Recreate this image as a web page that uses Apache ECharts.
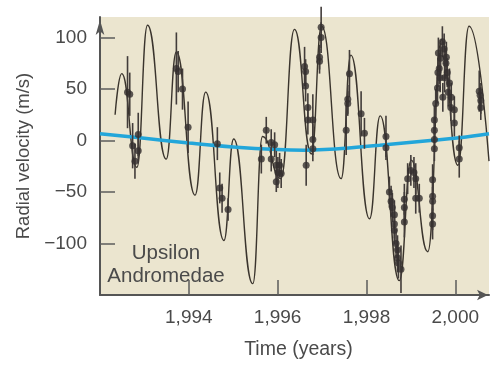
<!DOCTYPE html>
<html>
<head>
<meta charset="utf-8">
<script src="https://cdn.jsdelivr.net/npm/echarts@6/dist/echarts.min.js"></script>
<style>
html,body{margin:0;padding:0;background:#fff;}
#chart{width:490px;height:365px;}
</style>
</head>
<body>
<div id="chart"></div>
<script>
// Upsilon Andromedae radial velocity: observations, orbital fit and long-term trend

// Observations: epoch (years), velocity (m/s), 1-sigma error (m/s)
const obsYears = [
  1992.62, 1992.67, 1992.735, 1992.861, 1992.861, 1992.787,
  1993.72, 1993.76, 1993.858, 1993.984,
  1994.643, 1994.697, 1994.749, 1994.884,
  1995.633, 1995.744, 1995.856, 1995.933, 1995.856, 1995.97, 1996.006, 1995.97, 1996.045, 1996.08,
  1996.607, 1996.63, 1996.63, 1996.681, 1996.681, 1996.793, 1996.793, 1996.793, 1996.643,
  1996.98, 1996.98, 1996.944, 1996.944,
  1997.618, 1997.58, 1997.58, 1997.544, 1997.88, 1997.955,
  1998.44, 1998.44,
  1998.517, 1998.555, 1998.584, 1998.63, 1998.63, 1998.63, 1998.667, 1998.70, 1998.70, 1998.778, 1998.72,
  1998.854, 1998.854, 1998.854, 1998.928, 1999.0, 1999.07, 1999.11, 1999.11, 1999.19,
  1999.49, 1999.49, 1999.49, 1999.49, 1999.49, 1999.53, 1999.53, 1999.53, 1999.53, 1999.56,
  1999.6, 1999.64, 1999.67, 1999.71, 1999.75, 1999.79, 1999.82, 1999.87, 1999.91, 1999.98, 1999.98,
  2000.09, 2000.09, 1999.62, 1999.66, 1999.72, 1999.76, 1999.8, 1999.84, 1999.9, 1999.61,
  2000.54, 2000.575, 2000.575, 2000.56
];
const obsVel = [
  47, 45, -5, 6, -10, -20,
  70, 67, 50, 13,
  -3, -46, -56, -67,
  -18, 10, -2, -4, -18, -24, -31, -40, -24, -32,
  72, 67, 53, 32, 20, 20, 1, -8, -24,
  110, 100, 81, 77,
  65, 40, 36, 10, 26, 7,
  4, -7,
  -50, -59, -65, -72, -81, -87, -100, -106, -114, -125, -119,
  -57, -65, -79, -37, -29, -31, -37, -56, -56,
  -38, -54, -59, -73, -81, -8, 1, 10, 20, 36,
  51, 70, 80, 96, 89, 75, 66, 56, 42, 30, 17,
  -7, -18, 85, 61, 42, 61, 81, 47, 32, 66,
  48, 39, 32, 44
];
const obsErr = [
  35, 21, 22, 21, 12, 17,
  35, 20, 20, 25,
  16, 15, 14, 11,
  14, 13, 13, 12, 12, 14, 15, 10, 12, 14,
  19, 12, 15, 14, 14, 25, 15, 12, 20,
  20, 15, 12, 12,
  23, 14, 12, 24, 22, 15,
  20, 12,
  15, 15, 14, 14, 14, 14, 14, 14, 14, 23, 15,
  15, 15, 15, 15, 15, 15, 15, 15, 14,
  15, 14, 14, 14, 15, 12, 12, 12, 14, 14,
  15, 15, 15, 15, 15, 15, 14, 14, 14, 13, 13,
  12, 18, 15, 14, 14, 14, 15, 14, 13, 14,
  20, 13, 12, 12
];

// Orbital fit: turning points of the combined two-planet curve
const fitYears = [
  1992.34, 1992.49, 1992.83, 1993.07, 1993.49, 1993.72, 1994.14, 1994.38, 1994.79,
  1995.01, 1995.44, 1995.66, 1996.07, 1996.38, 1996.76, 1996.99, 1997.43, 1997.65,
  1998.07, 1998.31, 1998.74, 1999.01, 1999.38, 1999.69, 2000.06, 2000.31, 2000.76
];
const fitVel = [
  25, 65, -26, 112, -18, 86, -53, 47, -97,
  1.5, -139, 4, -37, 108, -13, 111, -37, 83,
  -76, 24, -136, -19, -108, 98, -24, 111, -20
];

// Long-term trend
const trendYears = [1992.0, 1993.0, 1994.0, 1995.0, 1996.0, 1996.6, 1997.3, 1998.3, 1999.5, 2000.1, 2000.76];
const trendVel = [6.6, 2.2, -2.3, -6.2, -8.8, -9.4, -8.3, -4.5, 0.3, 2.8, 6.6];

// Axis ticks
const xTicks = [1994, 1996, 1998, 2000];
const yTicks = [-100, -50, 0, 50, 100];

const FONT = '"Liberation Sans", Arial, Helvetica, sans-serif';
const TEXT = '#4a4a4a';
const AXIS = '#555555';

const chart = echarts.init(document.getElementById('chart'), null, {renderer: 'canvas'});

const zip = (a, b) => a.map((v, i) => [v, b[i]]);

chart.setOption({
  animation: false,
  backgroundColor: '#ffffff',
  grid: {
    left: 100, right: 1, top: 17, bottom: 62,
    show: true, backgroundColor: '#ebe5cf', borderWidth: 0
  },
  xAxis: {
    type: 'value',
    min: 1992, max: 2000.76,
    splitLine: {show: false},
    axisLine: {
      show: true, onZero: false, symbol: ['none', 'arrow'], symbolSize: [8, 11], symbolOffset: [0, -1],
      lineStyle: {color: AXIS, width: 2}
    },
    axisTick: {show: true, inside: true, length: 15, customValues: xTicks, lineStyle: {color: '#5c5c5c', width: 1.5}},
    axisLabel: {customValues: xTicks, margin: 13, fontSize: 19, color: TEXT, fontFamily: FONT},
    name: 'Time (years)', nameLocation: 'middle', nameGap: 45,
    nameTextStyle: {fontSize: 19.5, color: TEXT, fontFamily: FONT, padding: [0, 0, 0, 8]}
  },
  yAxis: {
    type: 'value',
    min: -150, max: 120,
    splitLine: {show: false},
    axisLine: {
      show: true, onZero: false, symbol: ['none', 'arrow'], symbolSize: [6.5, 15], symbolOffset: [0, -3],
      lineStyle: {color: AXIS, width: 2}
    },
    axisTick: {show: true, inside: true, length: 15, customValues: yTicks, lineStyle: {color: '#5c5c5c', width: 1.5}},
    axisLabel: {
      customValues: yTicks, margin: 13, fontSize: 19, color: TEXT, fontFamily: FONT,
      formatter: v => (v < 0 ? '\u2212' + Math.abs(v) : String(v))
    },
    name: 'Radial velocity (m/s)', nameLocation: 'middle', nameGap: 66,
    nameTextStyle: {fontSize: 18.5, color: TEXT, fontFamily: FONT}
  },
  series: [
    {
      name: 'fit', type: 'line', data: zip(fitYears, fitVel),
      smooth: 0.5, smoothMonotone: 'x', showSymbol: false, silent: true, z: 2,
      lineStyle: {color: '#3a342d', width: 1.4}
    },
    {
      name: 'trend', type: 'line', data: zip(trendYears, trendVel),
      smooth: 0.4, showSymbol: false, silent: true, z: 3,
      lineStyle: {color: '#22a6da', width: 3.5}
    },
    {
      name: 'errors', type: 'custom', silent: true, z: 4,
      data: obsYears.map((t, i) => [t, obsVel[i] - obsErr[i], obsVel[i] + obsErr[i]]),
      encode: {x: 0, y: [1, 2]},
      renderItem: (params, api) => {
        const lo = api.coord([api.value(0), api.value(1)]);
        const hi = api.coord([api.value(0), api.value(2)]);
        return {
          type: 'line',
          shape: {x1: lo[0], y1: lo[1], x2: hi[0], y2: hi[1]},
          style: {stroke: '#423c3a', lineWidth: 1.6}
        };
      }
    },
    {
      name: 'obs', type: 'scatter', data: zip(obsYears, obsVel),
      symbol: 'circle', symbolSize: 7, silent: true, z: 5,
      itemStyle: {color: '#353030'}
    }
  ],
  graphic: [
    {
      type: 'text', z: 10,
      style: {
        text: 'Upsilon\nAndromedae', x: 166, y: 265,
        align: 'center', verticalAlign: 'middle', lineHeight: 23,
        fontSize: 20.5, fontFamily: FONT, fill: TEXT
      }
    }
  ]
});
</script>
</body>
</html>
